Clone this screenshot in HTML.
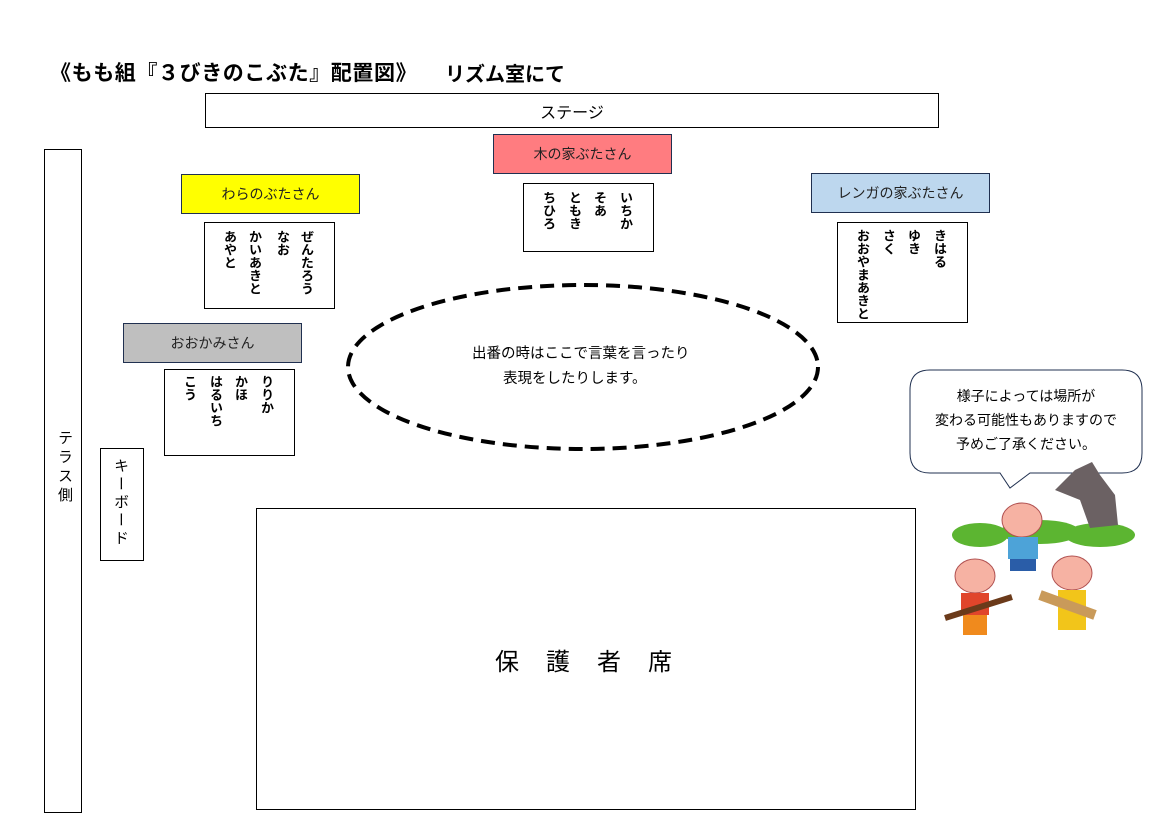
<!DOCTYPE html>
<html><head><meta charset="utf-8"><style>
body{margin:0;width:1165px;height:824px;background:#fff;position:relative;overflow:hidden;font-family:"Liberation Sans","Noto Sans CJK JP",sans-serif;}
.a{position:absolute;box-sizing:border-box;}
.bx{border:1px solid #000;background:#fff;}
.lbl{border:1px solid #203050;display:flex;align-items:center;justify-content:center;font-size:14px;color:#222;}
.v{position:absolute;writing-mode:vertical-rl;font-weight:bold;font-size:13px;line-height:13px;letter-spacing:0px;color:#000;}
</style></head><body>
<div class="a" style="left:50px;top:57px;font-size:21px;letter-spacing:0.6px;color:#000;white-space:nowrap;font-weight:bold">《もも組『３びきのこぶた』配置図》</div>
<div class="a" style="left:445px;top:58px;font-size:20px;color:#000;white-space:nowrap;font-weight:bold">リズム室にて</div>
<div class="a bx" style="left:205px;top:93px;width:734px;height:35px;display:flex;align-items:center;justify-content:center;font-size:16px">ステージ</div>
<div class="a bx" style="left:44px;top:149px;width:38px;height:664px"></div>
<div class="a" style="left:54px;top:430px;writing-mode:vertical-rl;font-size:15px;letter-spacing:4px">テラス側</div>
<div class="a bx" style="left:100px;top:448px;width:44px;height:113px"></div>
<div class="a" style="left:110px;top:458px;writing-mode:vertical-rl;font-size:15px;letter-spacing:3px">キーボード</div>

<div class="a lbl" style="left:493px;top:134px;width:179px;height:40px;background:#ff7c80">木の家ぶたさん</div>
<div class="a lbl" style="left:181px;top:174px;width:179px;height:40px;background:#ffff00">わらのぶたさん</div>
<div class="a lbl" style="left:811px;top:173px;width:179px;height:40px;background:#bdd7ee">レンガの家ぶたさん</div>
<div class="a lbl" style="left:123px;top:323px;width:179px;height:40px;background:#bfbfbf">おおかみさん</div>

<div class="a bx" style="left:204px;top:222px;width:131px;height:87px"></div>
<div class="v" style="left:300px;top:230px">ぜんたろう</div>
<div class="v" style="left:276px;top:230px">なお</div>
<div class="v" style="left:248px;top:230px">かいあきと</div>
<div class="v" style="left:223px;top:230px">あやと</div>

<div class="a bx" style="left:523px;top:183px;width:131px;height:69px"></div>
<div class="v" style="left:619px;top:191px">いちか</div>
<div class="v" style="left:593px;top:191px">そあ</div>
<div class="v" style="left:568px;top:191px">ともき</div>
<div class="v" style="left:542px;top:191px">ちひろ</div>

<div class="a bx" style="left:837px;top:222px;width:131px;height:101px"></div>
<div class="v" style="left:933px;top:229px">きはる</div>
<div class="v" style="left:907px;top:229px">ゆき</div>
<div class="v" style="left:882px;top:229px">さく</div>
<div class="v" style="left:856px;top:229px">おおやまあきと</div>

<div class="a bx" style="left:164px;top:369px;width:131px;height:87px"></div>
<div class="v" style="left:260px;top:375px">りりか</div>
<div class="v" style="left:234px;top:375px">かほ</div>
<div class="v" style="left:209px;top:375px">はるいち</div>
<div class="v" style="left:183px;top:375px">こう</div>

<svg class="a" style="left:0;top:0" width="1165" height="824">
<ellipse cx="583" cy="367" rx="235" ry="82" fill="none" stroke="#000" stroke-width="4" stroke-dasharray="14,8"/>
<path d="M930 370 H1122 Q1142 370 1142 390 V453 Q1142 473 1122 473 H1030 L1010 488 L1000 473 H930 Q910 473 910 453 V390 Q910 370 930 370Z" fill="#fff" stroke="#203050" stroke-width="1"/>
<g fill="#5cb531"><ellipse cx="980" cy="535" rx="28" ry="12"/><ellipse cx="1040" cy="532" rx="40" ry="12"/><ellipse cx="1100" cy="535" rx="35" ry="12"/></g>
<path d="M1055 490 L1075 470 L1092 462 L1100 475 L1115 495 L1118 525 L1090 528 L1080 500 Z" fill="#6b6163"/>
<g fill="#f6b2a3" stroke="#b05050" stroke-width="1">
<ellipse cx="1022" cy="520" rx="20" ry="17"/><ellipse cx="975" cy="576" rx="20" ry="17"/><ellipse cx="1072" cy="573" rx="20" ry="17"/></g>
<rect x="1008" y="537" width="30" height="22" fill="#4da3d8"/><rect x="1010" y="559" width="26" height="12" fill="#2a5da8"/>
<rect x="961" y="593" width="28" height="22" fill="#e0452b"/><rect x="963" y="615" width="24" height="20" fill="#f08a1d"/>
<rect x="1058" y="590" width="28" height="40" fill="#f2c51a"/>
<path d="M945 618 L1012 597" stroke="#6b3a1a" stroke-width="6"/>
<path d="M1040 595 L1095 615" stroke="#c99a5a" stroke-width="10"/>
</svg>
<div class="a" style="left:910px;top:384px;width:232px;text-align:center;font-size:14px;line-height:24px">様子によっては場所が<br>変わる可能性もありますので<br>予めご了承ください。</div>
<div class="a" style="left:472px;top:342px;font-size:14.5px;line-height:25px;white-space:nowrap">出番の時はここで言葉を言ったり<br><span style="margin-left:31px">表現をしたりします。</span></div>

<div class="a bx" style="left:256px;top:508px;width:660px;height:302px;display:flex;align-items:center;justify-content:center;font-size:24px;letter-spacing:27px;padding-left:22px">保護者席</div>
</body></html>
